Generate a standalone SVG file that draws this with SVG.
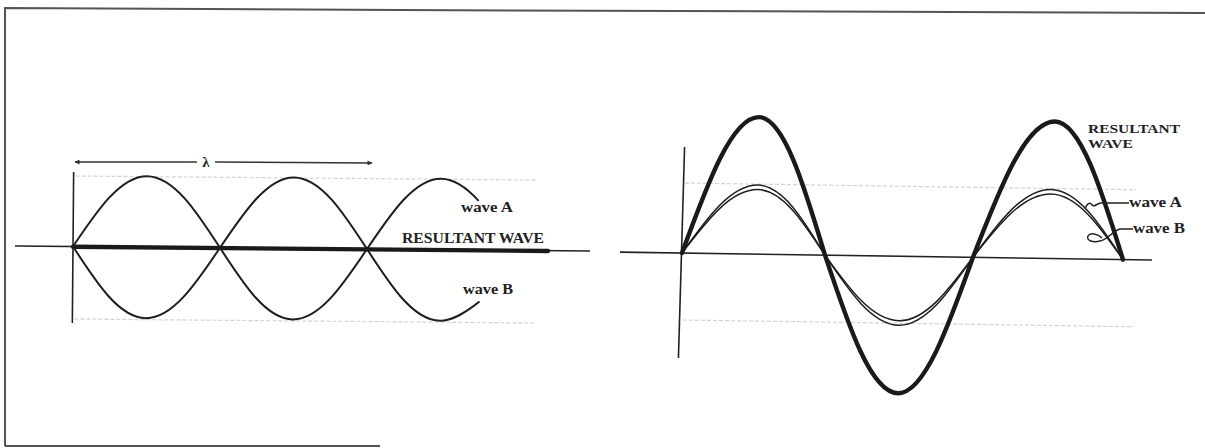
<svg xmlns="http://www.w3.org/2000/svg" width="1205" height="448" viewBox="0 0 1205 448">
<defs>
<style>
.lbl{font-family:"Liberation Serif","Times New Roman",serif;font-weight:bold;fill:#222;}
.axis{stroke:#222;stroke-width:1.6;fill:none;}
.wave{stroke:#1e1e1e;stroke-width:2;fill:none;}
.thin{stroke:#1e1e1e;stroke-width:1.5;fill:none;}
.thick{stroke:#1a1a1a;stroke-width:4.4;fill:none;stroke-linecap:round;}
.faint{stroke:#d4d4d4;stroke-width:1.2;stroke-dasharray:4 2;fill:none;}
.lead{stroke:#222;stroke-width:1.5;fill:none;}
</style>
<marker id="arr" viewBox="0 0 10 10" refX="9" refY="5" markerWidth="7" markerHeight="5" orient="auto-start-reverse" markerUnits="userSpaceOnUse">
<path d="M0,0 L10,5 L0,10 z" fill="#333"/>
</marker>
</defs>
<rect x="0" y="0" width="1205" height="448" fill="#fff"/>
<g id="frame">
<polyline points="5,446 5,8 400,10 1205,13" fill="none" stroke="#555" stroke-width="2"/>
<line x1="5" y1="446" x2="380" y2="446" stroke="#555" stroke-width="2"/>
</g>

<g id="left-panel" transform="rotate(0.5 73 246.5)">
<line class="faint" x1="75" y1="176" x2="535" y2="176"/>
<line class="faint" x1="75" y1="319" x2="535" y2="319"/>
<line class="axis" x1="73" y1="172" x2="73" y2="323"/>
<line class="axis" x1="15" y1="246.5" x2="590" y2="246.5"/>
<g id="left-wave-a"><path class="wave" d="M73,246.5 C97,210.1 119.9,175.5 146.5,175.5 C173.1,175.5 196,210.1 220,246.5 C244,282.9 266.9,317.5 293.5,317.5 C320.1,317.5 343,282.9 367,246.5 C391,210.1 413.9,175.5 440.5,175.5 C453.8,175.5 466.2,184.15 478.2,197.35"/></g>
<g id="left-wave-b"><path class="wave" d="M73,246.5 C97,282.9 119.9,317.5 146.5,317.5 C173.1,317.5 196,282.9 220,246.5 C244,210.1 266.9,175.5 293.5,175.5 C320.1,175.5 343,210.1 367,246.5 C391,282.9 413.9,317.5 440.5,317.5 C453.8,317.5 467,308.5 480,298"/></g>
<g id="left-resultant"><line class="thick" x1="73" y1="246.8" x2="548" y2="246.8"/></g>
</g>

<g id="lambda">
<line x1="75" y1="162" x2="197" y2="162" stroke="#333" stroke-width="1.5" marker-start="url(#arr)"/>
<line x1="215" y1="162" x2="372" y2="163" stroke="#333" stroke-width="1.5" marker-end="url(#arr)"/>
<text class="lbl" x="206" y="167" font-size="15" text-anchor="middle" font-weight="normal">λ</text>
</g>
<g id="left-labels">
<text class="lbl" x="461" y="212" font-size="15" textLength="52" lengthAdjust="spacingAndGlyphs">wave A</text>
<text class="lbl" x="402" y="243" font-size="15.5" textLength="142" lengthAdjust="spacingAndGlyphs">RESULTANT WAVE</text>
<text class="lbl" x="463" y="294" font-size="15" textLength="50" lengthAdjust="spacingAndGlyphs">wave B</text>
</g>

<g id="right-panel" transform="rotate(0.85 682 253)">
<line class="faint" x1="684" y1="183" x2="1135" y2="183"/>
<line class="faint" x1="684" y1="320" x2="1135" y2="320"/>
<line class="axis" x1="683" y1="147" x2="680" y2="358"/>
<line class="axis" x1="620" y1="253" x2="1152" y2="253"/>
<g id="right-wave-a"><path class="thin" d="M682,253 C706.5,217.7 729.9,184 757,184 C781.6,184 802.8,217.7 825,253 C849.5,288.3 872.9,322 900,322 C926.4,322 949.2,288.3 973,253 C998.1,217.7 1022.1,184 1050,184 C1076.4,184 1099.2,217.7 1123,253"/></g>
<g id="right-wave-b"><path class="thin" d="M682,253 C706.5,220.2 729.9,188.5 757,188.5 C781.6,188.5 802.8,220.2 825,253 C849.5,285.8 872.9,317.5 900,317.5 C926.4,317.5 949.2,285.8 973,253 C998.1,220.2 1022.1,188.5 1050,188.5 C1076.4,188.5 1099.2,220.2 1123,253"/></g>
<g id="right-resultant"><path class="thick" d="M682,253 C706.5,182.8 729.9,116 757,116 C781.6,116 802.8,182.8 825,253 C849.5,323.2 872.9,390 900,390 C926.4,390 949.2,323.2 973,253 C999.1,182.8 1024,116 1053,116 C1078.3,116 1100.2,182.8 1123,253"/></g>
</g>

<g id="connectors">
<path class="lead" d="M1085,209 C1087,203 1090,202 1092,205 C1094,208 1097,203 1101,203 L1129,203"/>
<path class="lead" d="M1133,229 L1120,229 C1112,231 1108,240 1100,241 C1092,243 1086,240 1088,236 C1090,232 1098,234 1102,238"/>
</g>
<g id="right-labels">
<text class="lbl" x="1088" y="132.5" font-size="13.5" textLength="92" lengthAdjust="spacingAndGlyphs">RESULTANT</text>
<text class="lbl" x="1088" y="147.5" font-size="13.5" textLength="45" lengthAdjust="spacingAndGlyphs">WAVE</text>
<text class="lbl" x="1129" y="207" font-size="15" textLength="53" lengthAdjust="spacingAndGlyphs">wave A</text>
<text class="lbl" x="1133" y="233" font-size="15" textLength="52" lengthAdjust="spacingAndGlyphs">wave B</text>
</g>
</svg>
